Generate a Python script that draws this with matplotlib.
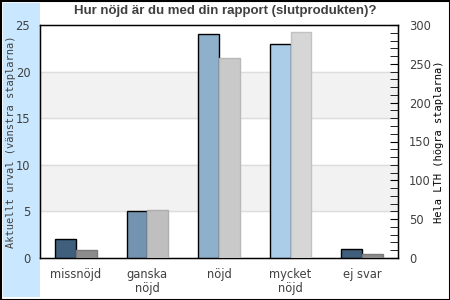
import numpy as np
import matplotlib.pyplot as plt
from matplotlib.patches import Rectangle

# Data
kategorier = ['missnöjd', 'ganska\nnöjd', 'nöjd', 'mycket\nnöjd', 'ej svar']
aktuellt_urval = [2, 5, 24, 23, 1]
hela_lth = [10, 62, 257, 291, 5]

farg_vanster = ['#3f5f7c', '#7393b0', '#8eb0cb', '#abcde8', '#3f5f7c']
farg_hoger = ['#8c8c8c', '#bfbfbf', '#c9c9c9', '#d6d6d6', '#8c8c8c']
kant_hoger = ['#7a7a7a', '#adadad', '#b8b8b8', '#c2c2c2', '#7a7a7a']

textfarg = '#404040'

fig = plt.figure(figsize=(4.5, 3), dpi=100)
fig.patch.set_facecolor('white')

# ljusblått fält till vänster + ram
fig.patches.append(Rectangle((3 / 450, 3 / 300), 37 / 450, 294 / 300,
                             transform=fig.transFigure, facecolor='#c9e8ff',
                             edgecolor='none', zorder=-1))
fig.patches.append(Rectangle((0.5 / 450, 0.5 / 300), 449 / 450, 299 / 300,
                             transform=fig.transFigure, facecolor='none',
                             edgecolor='black', linewidth=1.5, zorder=5))

ax = fig.add_axes([40 / 450, 42 / 300, 358 / 450, 233 / 300])
ax.set_facecolor('white')
x = np.arange(len(kategorier))
w = 0.29

# bakgrundsband och rutnät
for lo in [5, 15]:
    ax.axhspan(lo, lo + 5, color='#f2f2f2', zorder=0)
for y in [5, 10, 15, 20]:
    ax.axhline(y, color='#dddddd', linewidth=1, zorder=0.5)

ax.bar(x - w / 2, aktuellt_urval, width=w, color=farg_vanster,
       edgecolor='black', linewidth=1, zorder=3)
ax.set_xlim(-0.5, 4.5)
ax.set_ylim(0, 25)
ax.set_yticks([0, 5, 10, 15, 20, 25])
ax.tick_params(axis='y', length=0, labelsize=8.3, labelcolor=textfarg, pad=7)
ax.set_xticks(x)
ax.set_xticklabels(kategorier, linespacing=1.12)
ax.tick_params(axis='x', length=0, labelsize=8.3, labelcolor=textfarg, pad=7)
for s in ax.spines.values():
    s.set_color('black')
    s.set_linewidth(1)
ax.set_ylabel('Aktuellt urval (vänstra staplarna)', family='DejaVu Sans Mono',
              fontsize=7.5, color=textfarg)
ax.yaxis.set_label_coords(-0.068, 0.5)

ax2 = ax.twinx()
ax2.bar(x + w / 2, hela_lth, width=w, color=farg_hoger,
        edgecolor=kant_hoger, linewidth=1, zorder=3)
ax2.set_ylim(0, 300)
ax2.set_yticks(np.arange(0, 301, 50))
ax2.set_yticks(np.arange(0, 301, 10), minor=True)
ax2.tick_params(axis='y', which='major', direction='in', length=6,
                labelsize=8.3, labelcolor=textfarg, pad=8)
ax2.tick_params(axis='y', which='minor', direction='in', length=6)
ax2.set_ylabel('Hela LTH (högra staplarna)', family='DejaVu Sans Mono',
               fontsize=7.5, color='black')
ax2.yaxis.set_label_coords(1.1, 0.5)

fig.suptitle('Hur nöjd är du med din rapport (slutprodukten)?',
             family='Liberation Sans', fontweight='bold', fontsize=9.5,
             color=textfarg, x=0.5, y=0.982)

fig.savefig('out.png', dpi=100)
